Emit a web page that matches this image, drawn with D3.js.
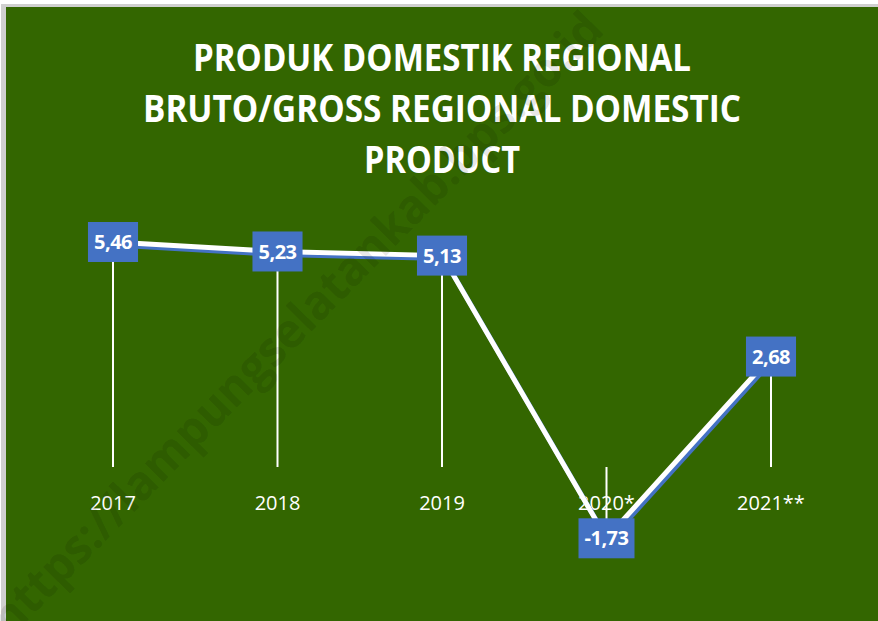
<!DOCTYPE html>
<html>
<head>
<meta charset="utf-8">
<script src="https://cdn.jsdelivr.net/npm/d3@7"></script>
<style>
  html, body { margin: 0; padding: 0; background: #fff; }
  svg { display: block; }
</style>
</head>
<body>
<div id="chart"></div>
<script>
"use strict";
// chart data
const years = ["2017", "2018", "2019", "2020*", "2021**"];
const growth = [5.46, 5.23, 5.13, -1.73, 2.68];
const titleLines = ["PRODUK DOMESTIK REGIONAL", "BRUTO/GROSS REGIONAL DOMESTIC", "PRODUCT"];
const titleWidths = [498, 598, 156];
const watermark = "https://lampungselatankab.bps.go.id";

const W = 878, H = 621;
const fmt = v => d3.format(".2f")(v).replace(".", ",").replace("\u2212", "-");

const svg = d3.select("#chart").append("svg")
  .attr("width", W)
  .attr("height", H);

// frame + green plot background
svg.append("rect").attr("x", 0).attr("y", 0).attr("width", W).attr("height", H).attr("fill", "#fff");
svg.append("rect").attr("x", 1).attr("y", 4).attr("width", W).attr("height", H).attr("fill", "#cfcfcf");
svg.append("rect").attr("x", 6).attr("y", 7).attr("width", W).attr("height", H).attr("fill", "#336600");

// title
svg.append("g").selectAll("text")
  .data(titleLines)
  .enter().append("text")
  .attr("x", 442)
  .attr("y", (d, i) => 71 + i * 51)
  .attr("text-anchor", "middle")
  .attr("textLength", (d, i) => titleWidths[i])
  .attr("lengthAdjust", "spacingAndGlyphs")
  .style("font-family", "'Open Sans', sans-serif")
  .style("font-weight", "bold")
  .style("font-size", "38px")
  .attr("fill", "#fff")
  .text(d => d);

// scales
const x = d3.scalePoint().domain(years).range([113, 771]);
const y = d3.scaleLinear().domain([0, 5.46]).range([467, 242]);

const pts = years.map((d, i) => ({ year: d, value: growth[i] }));

// drop lines
svg.append("g").selectAll("line")
  .data(pts)
  .enter().append("line")
  .attr("x1", d => x(d.year)).attr("x2", d => x(d.year))
  .attr("y1", d => y(d.value)).attr("y2", y(0))
  .attr("stroke", "#fff")
  .attr("stroke-width", 2);

// category labels
svg.append("g").selectAll("text")
  .data(years)
  .enter().append("text")
  .attr("x", d => x(d))
  .attr("y", 510)
  .attr("text-anchor", "middle")
  .style("font-family", "'Open Sans', sans-serif")
  .style("font-size", "20px")
  .attr("fill", "#fff")
  .text(d => d);

// line with blue shadow
const line = d3.line().x(d => x(d.year)).y(d => y(d.value));
svg.append("path")
  .datum(pts)
  .attr("d", line)
  .attr("transform", "translate(2,3)")
  .attr("fill", "none")
  .attr("stroke", "#4472c4")
  .attr("stroke-width", 5);
svg.append("path")
  .datum(pts)
  .attr("d", line)
  .attr("fill", "none")
  .attr("stroke", "#fff")
  .attr("stroke-width", 5);

// data labels
const lab = svg.append("g").selectAll("g")
  .data(pts)
  .enter().append("g")
  .attr("transform", d => "translate(" + x(d.year) + "," + y(d.value) + ")");
lab.append("rect").attr("fill", "#4472c4");
lab.append("text")
  .attr("text-anchor", "middle")
  .attr("dy", "0.36em")
  .style("font-family", "'Open Sans', sans-serif")
  .style("font-weight", "bold")
  .style("font-size", "20px")
  .style("letter-spacing", "-0.5px")
  .attr("fill", "#fff")
  .text(d => fmt(d.value));
lab.each(function() {
  const g = d3.select(this);
  const bb = g.select("text").node().getBBox();
  const w = bb.width + 12, h = 40;
  g.select("rect").attr("x", -w / 2).attr("y", -h / 2).attr("width", w).attr("height", h);
});

// watermark
svg.append("text")
  .attr("transform", "translate(308,335) rotate(-45.5)")
  .attr("text-anchor", "middle")
  .attr("textLength", 850)
  .attr("lengthAdjust", "spacingAndGlyphs")
  .style("font-family", "'Open Sans', sans-serif")
  .style("font-weight", "bold")
  .style("font-size", "48px")
  .attr("fill", "#000")
  .attr("fill-opacity", 0.11)
  .text(watermark);
</script>
</body>
</html>
